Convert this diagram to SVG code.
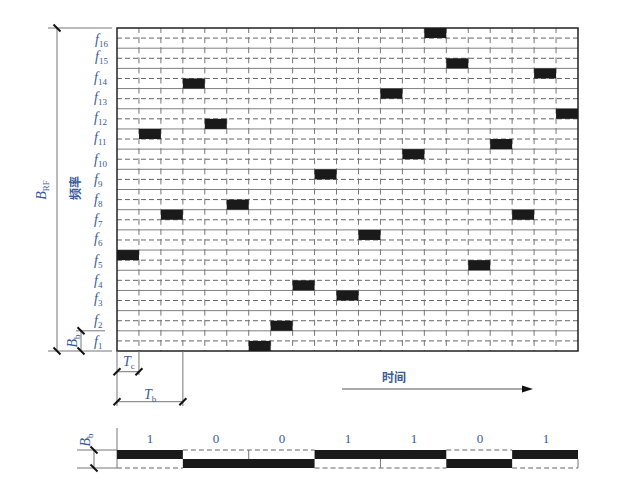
<svg xmlns="http://www.w3.org/2000/svg" width="621" height="481" viewBox="0 0 621 481">
<style>
.bg{fill:#fff}
.sol{stroke:#808080;stroke-width:1;fill:none}
.dsh{stroke:#666;stroke-width:1;stroke-dasharray:5 3;fill:none}
.vd{stroke:#777;stroke-width:1;stroke-dasharray:6 4.094;stroke-dashoffset:1;fill:none}
.bd{stroke:#222;stroke-width:1.5;fill:none}
.blk{fill:#1a1a1a}
.ext{stroke:#777;stroke-width:1;fill:none}
.tk{stroke:#111;stroke-width:2;fill:none}
.lbl{font-family:"Liberation Serif",serif;font-style:italic;font-size:14px;fill:#3a5a9a}
.sub{font-style:normal;font-size:9px}
.bit{font-family:"Liberation Serif",serif;font-size:13px;fill:#3a5a9a;text-anchor:middle}
.cjk{font-family:"Noto Sans CJK SC",sans-serif;font-size:12px;fill:#3a5a9a;font-weight:bold}
</style>
<rect class="bg" x="0" y="0" width="621" height="481"/>

<g id="grid">
  <g class="sol">
    <line x1="117" y1="48.19" x2="578" y2="48.19"/>
    <line x1="117" y1="68.38" x2="578" y2="68.38"/>
    <line x1="117" y1="88.56" x2="578" y2="88.56"/>
    <line x1="117" y1="108.75" x2="578" y2="108.75"/>
    <line x1="117" y1="128.94" x2="578" y2="128.94"/>
    <line x1="117" y1="149.13" x2="578" y2="149.13"/>
    <line x1="117" y1="169.31" x2="578" y2="169.31"/>
    <line x1="117" y1="189.5" x2="578" y2="189.5"/>
    <line x1="117" y1="209.69" x2="578" y2="209.69"/>
    <line x1="117" y1="229.88" x2="578" y2="229.88"/>
    <line x1="117" y1="250.06" x2="578" y2="250.06"/>
    <line x1="117" y1="270.25" x2="578" y2="270.25"/>
    <line x1="117" y1="290.44" x2="578" y2="290.44"/>
    <line x1="117" y1="310.63" x2="578" y2="310.63"/>
    <line x1="117" y1="330.81" x2="578" y2="330.81"/>
  </g>
  <g class="dsh">
    <line x1="117" y1="38.09" x2="578" y2="38.09"/>
    <line x1="117" y1="58.28" x2="578" y2="58.28"/>
    <line x1="117" y1="78.47" x2="578" y2="78.47"/>
    <line x1="117" y1="98.66" x2="578" y2="98.66"/>
    <line x1="117" y1="118.84" x2="578" y2="118.84"/>
    <line x1="117" y1="139.03" x2="578" y2="139.03"/>
    <line x1="117" y1="159.22" x2="578" y2="159.22"/>
    <line x1="117" y1="179.41" x2="578" y2="179.41"/>
    <line x1="117" y1="199.59" x2="578" y2="199.59"/>
    <line x1="117" y1="219.78" x2="578" y2="219.78"/>
    <line x1="117" y1="239.97" x2="578" y2="239.97"/>
    <line x1="117" y1="260.16" x2="578" y2="260.16"/>
    <line x1="117" y1="280.34" x2="578" y2="280.34"/>
    <line x1="117" y1="300.53" x2="578" y2="300.53"/>
    <line x1="117" y1="320.72" x2="578" y2="320.72"/>
    <line x1="117" y1="340.91" x2="578" y2="340.91"/>
  </g>
  <g class="vd">
    <line x1="138.95" y1="28" x2="138.95" y2="351"/>
    <line x1="160.9" y1="28" x2="160.9" y2="351"/>
    <line x1="182.86" y1="28" x2="182.86" y2="351"/>
    <line x1="204.81" y1="28" x2="204.81" y2="351"/>
    <line x1="226.76" y1="28" x2="226.76" y2="351"/>
    <line x1="248.71" y1="28" x2="248.71" y2="351"/>
    <line x1="270.67" y1="28" x2="270.67" y2="351"/>
    <line x1="292.62" y1="28" x2="292.62" y2="351"/>
    <line x1="314.57" y1="28" x2="314.57" y2="351"/>
    <line x1="336.52" y1="28" x2="336.52" y2="351"/>
    <line x1="358.48" y1="28" x2="358.48" y2="351"/>
    <line x1="380.43" y1="28" x2="380.43" y2="351"/>
    <line x1="402.38" y1="28" x2="402.38" y2="351"/>
    <line x1="424.33" y1="28" x2="424.33" y2="351"/>
    <line x1="446.29" y1="28" x2="446.29" y2="351"/>
    <line x1="468.24" y1="28" x2="468.24" y2="351"/>
    <line x1="490.19" y1="28" x2="490.19" y2="351"/>
    <line x1="512.14" y1="28" x2="512.14" y2="351"/>
    <line x1="534.1" y1="28" x2="534.1" y2="351"/>
    <line x1="556.05" y1="28" x2="556.05" y2="351"/>
  </g>
  <rect class="bd" x="117" y="28" width="461" height="323"/>
</g>

<g id="hops" class="blk">
  <rect x="424.33" y="28" width="21.96" height="10.09"/>
  <rect x="446.29" y="58.28" width="21.96" height="10.1"/>
  <rect x="182.86" y="78.47" width="21.96" height="10.09"/>
  <rect x="534.1" y="68.38" width="21.96" height="10.09"/>
  <rect x="380.43" y="88.56" width="21.96" height="10.1"/>
  <rect x="204.81" y="118.84" width="21.96" height="10.1"/>
  <rect x="556.05" y="108.75" width="21.95" height="10.09"/>
  <rect x="138.95" y="128.94" width="21.96" height="10.09"/>
  <rect x="490.19" y="139.03" width="21.96" height="10.1"/>
  <rect x="402.38" y="149.13" width="21.96" height="10.09"/>
  <rect x="314.57" y="169.31" width="21.96" height="10.1"/>
  <rect x="226.76" y="199.59" width="21.96" height="10.1"/>
  <rect x="160.9" y="209.69" width="21.96" height="10.09"/>
  <rect x="512.14" y="209.69" width="21.96" height="10.09"/>
  <rect x="358.48" y="229.88" width="21.96" height="10.09"/>
  <rect x="117" y="250.06" width="21.95" height="10.1"/>
  <rect x="468.24" y="260.16" width="21.96" height="10.09"/>
  <rect x="292.62" y="280.34" width="21.96" height="10.1"/>
  <rect x="336.52" y="290.44" width="21.96" height="10.09"/>
  <rect x="270.67" y="320.72" width="21.96" height="10.09"/>
  <rect x="248.71" y="340.91" width="21.96" height="10.09"/>
</g>

<g id="freq-labels" class="lbl">
  <text x="95" y="44">f<tspan class="sub" dy="3">16</tspan></text>
  <text x="95" y="61">f<tspan class="sub" dy="3">15</tspan></text>
  <text x="94" y="82">f<tspan class="sub" dy="3">14</tspan></text>
  <text x="94" y="102">f<tspan class="sub" dy="3">13</tspan></text>
  <text x="94" y="122">f<tspan class="sub" dy="3">12</tspan></text>
  <text x="94" y="142">f<tspan class="sub" dy="3">11</tspan></text>
  <text x="94" y="164">f<tspan class="sub" dy="3">10</tspan></text>
  <text x="94" y="184">f<tspan class="sub" dy="3">9</tspan></text>
  <text x="94" y="204">f<tspan class="sub" dy="3">8</tspan></text>
  <text x="94" y="224">f<tspan class="sub" dy="3">7</tspan></text>
  <text x="94" y="243">f<tspan class="sub" dy="3">6</tspan></text>
  <text x="94" y="265">f<tspan class="sub" dy="3">5</tspan></text>
  <text x="94" y="285">f<tspan class="sub" dy="3">4</tspan></text>
  <text x="94" y="303">f<tspan class="sub" dy="3">3</tspan></text>
  <text x="94" y="325">f<tspan class="sub" dy="3">2</tspan></text>
  <text x="94" y="346">f<tspan class="sub" dy="3">1</tspan></text>
</g>

<g id="brf-dimension">
  <line class="ext" x1="48" y1="28" x2="112" y2="28"/>
  <line class="ext" x1="48" y1="351" x2="112" y2="351"/>
  <line class="ext" x1="57" y1="28" x2="57" y2="351"/>
  <line class="tk" x1="53.5" y1="24.5" x2="60.5" y2="31.5"/>
  <line class="tk" x1="53.5" y1="347.5" x2="60.5" y2="354.5"/>
  <text class="lbl" transform="translate(46,190) rotate(-90)" text-anchor="middle">B<tspan class="sub" dy="3">RF</tspan></text>
  <text class="cjk" transform="translate(80,188) rotate(-90)" text-anchor="middle">频率</text>
</g>

<g id="bb-dimension">
  <line class="ext" x1="76" y1="330.81" x2="105" y2="330.81"/>
  <line class="ext" x1="81" y1="330.81" x2="81" y2="351"/>
  <line class="tk" x1="77.5" y1="327.3" x2="84.5" y2="334.3"/>
  <line class="tk" x1="77.5" y1="347.5" x2="84.5" y2="354.5"/>
  <text class="lbl" transform="translate(77,341) rotate(-90)" text-anchor="middle">B<tspan class="sub" dy="3">b</tspan></text>
</g>

<g id="tc-tb-dimension">
  <line class="ext" x1="117" y1="351" x2="117" y2="406"/>
  <line class="ext" x1="138.95" y1="351" x2="138.95" y2="375"/>
  <line class="ext" x1="182.86" y1="351" x2="182.86" y2="406"/>
  <line class="ext" x1="117" y1="371.7" x2="138.95" y2="371.7"/>
  <line class="ext" x1="117" y1="401.7" x2="182.86" y2="401.7"/>
  <line class="tk" x1="113.5" y1="375.2" x2="120.5" y2="368.2"/>
  <line class="tk" x1="135.45" y1="375.2" x2="142.45" y2="368.2"/>
  <line class="tk" x1="113.5" y1="405.2" x2="120.5" y2="398.2"/>
  <line class="tk" x1="179.36" y1="405.2" x2="186.36" y2="398.2"/>
  <text class="lbl" x="123" y="366">T<tspan class="sub" dy="3">c</tspan></text>
  <text class="lbl" x="144" y="399">T<tspan class="sub" dy="3">b</tspan></text>
</g>

<g id="connectors">
  <line x1="342" y1="389" x2="524" y2="389" stroke="#555" stroke-width="1"/>
  <polygon points="533,389 522,385.5 522,392.5" fill="#111"/>
</g>
<g id="time-label">
  <text class="cjk" x="394" y="382" text-anchor="middle" fill="#3a4a6a">时间</text>
</g>

<g id="bit-signal">
  <line class="ext" x1="117" y1="428" x2="117" y2="468"/>
  <line class="ext" x1="77" y1="450" x2="117" y2="450"/>
  <line class="ext" x1="77" y1="468" x2="117" y2="468"/>
  <line class="ext" x1="94" y1="450" x2="94" y2="468"/>
  <line class="tk" x1="90.5" y1="446.5" x2="97.5" y2="453.5"/>
  <line class="tk" x1="90.5" y1="464.5" x2="97.5" y2="471.5"/>
  <text class="lbl" transform="translate(90,440) rotate(-90)" text-anchor="middle">B<tspan class="sub" dy="3">b</tspan></text>
  <g class="dsh">
    <line x1="117" y1="468" x2="182.86" y2="468"/>
    <line x1="182.86" y1="450" x2="314.57" y2="450"/>
    <line x1="314.57" y1="468" x2="446.29" y2="468"/>
    <line x1="446.29" y1="450" x2="512.14" y2="450"/>
    <line x1="512.14" y1="468" x2="578" y2="468"/>
  </g>
  <line class="ext" x1="248.71" y1="450" x2="248.71" y2="459"/>
  <line class="ext" x1="380.43" y1="459" x2="380.43" y2="468"/>
  <line class="ext" x1="578" y1="459" x2="578" y2="468"/>
  <g class="blk">
    <rect x="117" y="450" width="65.86" height="9"/>
    <rect x="182.86" y="459" width="131.71" height="9"/>
    <rect x="314.57" y="450" width="131.72" height="9"/>
    <rect x="446.29" y="459" width="65.85" height="9"/>
    <rect x="512.14" y="450" width="65.86" height="9"/>
  </g>
  <text class="bit" x="150" y="443">1</text>
  <text class="bit" x="216" y="443">0</text>
  <text class="bit" x="282" y="443">0</text>
  <text class="bit" x="348" y="443">1</text>
  <text class="bit" x="414" y="443">1</text>
  <text class="bit" x="480" y="443">0</text>
  <text class="bit" x="546" y="443">1</text>
</g>
</svg>
